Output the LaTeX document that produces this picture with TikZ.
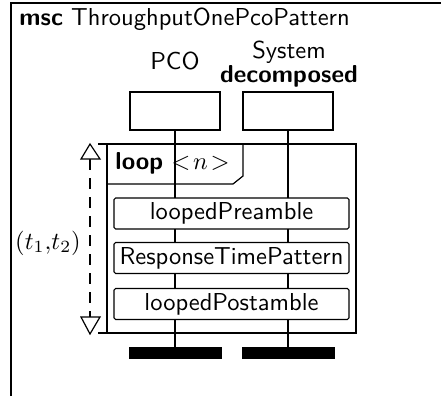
\documentclass[tikz,border=0pt]{standalone}
\usepackage{amsmath}
\usepackage{fontspec}
\usetikzlibrary{calc, positioning}
\usetikzlibrary{arrows.meta}

\tikzset{
  txt/.style={scale=2.45, inner sep=0pt, font=\sffamily},
  instbox/.style={draw, line width=1.2pt, minimum width=90pt, minimum height=38pt, inner sep=0pt},
  endbar/.style={fill=black, minimum width=93pt, minimum height=12pt, inner sep=0pt},
  refbox/.style={draw, fill=white, line width=1.2pt, scale=2.45, rounded corners=1.6pt,
    minimum width=95.9pt, minimum height=12.65pt, inner sep=0pt, font=\sffamily},
  lifeline/.style={line width=1.2pt},
  instname/.style={txt, anchor=base},
  measuretip/.style={draw, line width=1.2pt, fill=white}
}

\begin{document}
\begin{tikzpicture}[x=1pt,y=-1pt]
\useasboundingbox (0,0) rectangle (441,396);

% Outer msc frame (cut off on the right and below)
\draw[line width=2pt] (11,396) -- (11,3) -- (441,3);
\node[txt, anchor=base west] (title) at (19,26) {\textbf{msc} ThroughputOnePcoPattern};

% Instances
\node[instbox] (pco) at (175,111) {};
\node[instbox] (sys) at (288,111) {};
\node[instname] (pconame) at (175,70) {PCO};
\node[instname] (sysname) at (289,59) {System};
\node[instname] (sysdec) at (289,82) {\textbf{decomposed}};

% Instance ends
\node[endbar] (pcoend) at (175,353) {};
\node[endbar] (sysend) at (288,353) {};

% Lifelines
\draw[lifeline] (pco.south) -- (pcoend.north);
\draw[lifeline] (sys.south) -- (sysend.north);

% Loop frame and its label
\coordinate (loopnw) at (107,144);
\coordinate (loopse) at (356,333);
\draw[line width=1.2pt] (loopnw) rectangle (loopse);
\draw[line width=1.2pt] (107,184) -- (233,184) -- (243,176) -- (243,144);
\node[txt, anchor=base west] (looplabel) at (115,169) {\textbf{loop} $<\!n\!>$};

% Referenced patterns
\node[refbox] (pre) at (231.5,213.5) {loopedPreamble};
\node[refbox] (rtp) at (231.5,258) {ResponseTimePattern};
\node[refbox] (post) at (231.5,304) {loopedPostamble};

% Time measure on the loop
\coordinate (mtop) at (90,144);
\coordinate (mbot) at (90,334);
\draw[line width=1.2pt] (98,144) -- (loopnw);
\draw[line width=1.2pt] (98,333) -- (107,333);
\draw[line width=1.2pt, dash pattern=on 11pt off 8pt] ($(mtop)+(0,15)$) -- ($(mbot)+(0,-17)$);
\draw[measuretip] (mtop) -- (81,159) -- (100,159) -- cycle;
\draw[measuretip] (mbot) -- (81,317) -- (100,317) -- cycle;
\node[txt] (mlabel) at (48,243) {$(t_1{,}t_2)$};
\end{tikzpicture}
\end{document}
